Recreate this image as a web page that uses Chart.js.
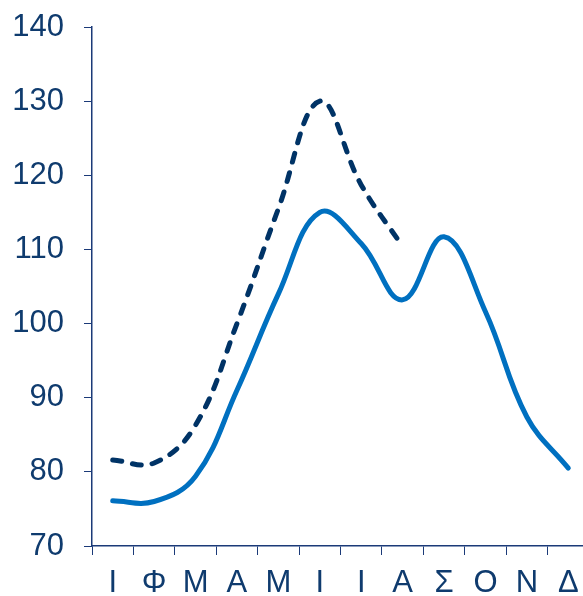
<!DOCTYPE html>
<html>
<head>
<meta charset="utf-8">
<script src="https://cdn.jsdelivr.net/npm/chart.js@4"></script>
<style>
  html, body { margin: 0; padding: 0; background: #fff; overflow: hidden; }
  #wrap { width: 589px; height: 596px; }
</style>
</head>
<body>
<div id="wrap"><canvas id="chart" width="589" height="596"></canvas></div>
<script>
// month initials (Greek)
const months = ["Ι", "Φ", "Μ", "Α", "Μ", "Ι", "Ι", "Α", "Σ", "Ο", "Ν", "Δ"];
// solid series, full year
const solidValues = [76.1, 76.0, 79.4, 91.0, 104.0, 115.0, 110.8, 103.2, 111.7, 101.6, 87.4, 80.5];
// dashed series, Jan to Aug only
const dashedValues = [81.6, 81.2, 86.3, 100.0, 115.5, 130.0, 118.7, 110.4];
const yTicks = [70, 80, 90, 100, 110, 120, 130, 140];

const navy = "#1b3a78";
const textColor = "#0f3b6e";

new Chart(document.getElementById("chart").getContext("2d"), {
  type: "line",
  data: {
    labels: months,
    datasets: [
      {
        data: solidValues,
        borderColor: "#0070c0",
        borderWidth: 5,
        borderCapStyle: "round",
        borderJoinStyle: "round",
        pointRadius: 0,
        tension: 0.4,
        fill: false,
      },
      {
        data: dashedValues,
        borderColor: "#003366",
        borderWidth: 5,
        borderDash: [9, 11],
        borderCapStyle: "round",
        pointRadius: 0,
        tension: 0.4,
        fill: false,
      },
    ],
  },
  options: {
    responsive: false,
    animation: false,
    layout: {
      autoPadding: false,
      padding: { top: 27, right: 0, left: 0, bottom: 0 },
    },
    plugins: {
      legend: { display: false },
      tooltip: { enabled: false },
    },
    scales: {
      x: {
        offset: true,
        grid: {
          display: true,
          drawOnChartArea: false,
          drawTicks: true,
          tickLength: 9,
          color: navy,
          offset: true,
        },
        border: { display: true, color: navy, width: 1.5 },
        ticks: {
          color: textColor,
          padding: 10,
          font: { family: "Liberation Sans", size: 31 },
          maxRotation: 0,
          autoSkip: false,
        },
        afterFit: (scale) => {
          scale.height = 50;
          scale.paddingLeft = 0;
          scale.paddingRight = 0;
        },
      },
      y: {
        min: 70,
        max: 140,
        afterBuildTicks: (scale) => {
          scale.ticks = yTicks.map((v) => ({ value: v }));
        },
        grid: {
          display: true,
          drawOnChartArea: false,
          drawTicks: true,
          tickLength: 8,
          color: navy,
        },
        border: { display: true, color: navy, width: 1.5 },
        ticks: {
          color: textColor,
          padding: 20,
          font: { family: "Liberation Sans", size: 31 },
        },
        afterFit: (scale) => {
          scale.width = 92;
          scale.paddingTop = 0;
          scale.paddingBottom = 0;
        },
      },
    },
  },
});
</script>
</body>
</html>
